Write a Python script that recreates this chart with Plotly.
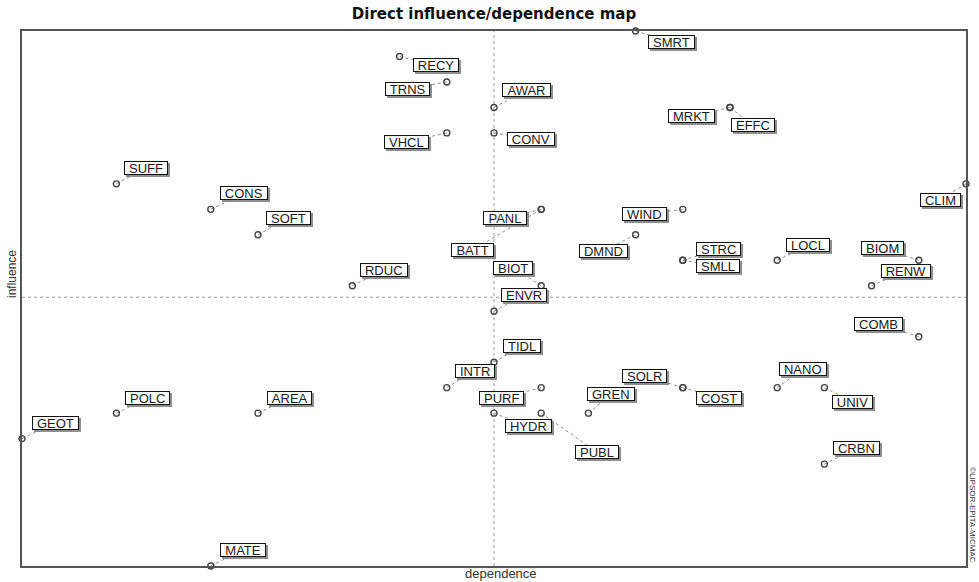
import plotly.graph_objects as go

# ---- data ----
names = ["RECY", "TRNS", "VHCL", "SUFF", "CONS", "SOFT", "RDUC", "AWAR", "CONV", "SMRT",
         "MRKT", "EFFC", "CLIM", "PANL", "BATT", "WIND", "DMND", "STRC", "SMLL", "LOCL",
         "BIOM", "RENW", "BIOT", "ENVR", "TIDL", "INTR", "PURF", "HYDR", "PUBL", "GREN",
         "SOLR", "COST", "NANO", "UNIV", "COMB", "CRBN", "GEOT", "POLC", "AREA", "MATE"]
dependence = [8, 9, 9, 2, 4, 5, 7, 10, 10, 13,
              15, 15, 20, 11, 11, 14, 13, 14, 14, 16,
              19, 18, 11, 10, 10, 9, 11, 10, 11, 12,
              14, 14, 16, 17, 19, 17, 0, 2, 5, 4]
influence = [20, 19, 17, 15, 14, 13, 11, 18, 17, 21,
             18, 18, 15, 14, 14, 14, 13, 12, 12, 12,
             12, 11, 11, 10, 8, 7, 7, 6, 6, 6,
             7, 7, 7, 7, 9, 4, 5, 6, 6, 0]
dependence_mean = 10.0
influence_mean = 10.55

# ---- label placement (pixel offsets of label centre from its point) ----
label_offset = {
    "RECY": (36, 9), "TRNS": (-39, 7), "VHCL": (-40, 9), "SUFF": (30, -16),
    "CONS": (33, -16), "SOFT": (30, -17), "RDUC": (32, -16), "AWAR": (32, -17),
    "CONV": (37, 6), "SMRT": (36, 11), "MRKT": (-39, 9), "EFFC": (23, 18),
    "CLIM": (-26, 16), "PANL": (-36, 9), "BATT": (-69, 41), "WIND": (-38, 5),
    "DMND": (-32, 16), "STRC": (36, -11), "SMLL": (35, 6), "LOCL": (31, -15),
    "BIOM": (-36, -12), "RENW": (34, -15), "BIOT": (-28, -18), "ENVR": (30, -16),
    "TIDL": (28, -16), "INTR": (28, -17), "PURF": (-40, 10), "HYDR": (34, 13),
    "PUBL": (56, 39), "GREN": (23, -19), "SOLR": (-38, -12), "COST": (36, 10),
    "NANO": (26, -19), "UNIV": (28, 14), "COMB": (-40, -13), "CRBN": (32, -16),
    "GEOT": (33, -16), "POLC": (31, -15), "AREA": (31, -15), "MATE": (32, -16),
}

W, H = 979, 582
ML, MR, MT, MB = 22, 13, 31, 16
XR = [0, 20]
YR = [0, 21]
px_x = (W - ML - MR) / (XR[1] - XR[0])
px_y = (H - MT - MB) / (YR[1] - YR[0])

FONT = "Liberation Sans, Arial, sans-serif"
LABEL_SIZE = 13
cw = {"A": 667, "B": 667, "C": 722, "D": 722, "E": 667, "F": 611, "G": 778, "H": 722,
      "I": 278, "J": 500, "K": 667, "L": 556, "M": 833, "N": 722, "O": 778, "P": 667,
      "Q": 778, "R": 722, "S": 667, "T": 611, "U": 722, "V": 667, "W": 944, "X": 667,
      "Y": 667, "Z": 611}

def text_w(s):
    return sum(cw.get(c, 600) for c in s) / 1000 * LABEL_SIZE

lx, ly = [], []
for n, d, i in zip(names, dependence, influence):
    dx, dy = label_offset[n]
    lx.append(d + dx / px_x)
    ly.append(i - dy / px_y)

fig = go.Figure()

# connectors (dotted)
cx, cy = [], []
for d, i, x2, y2 in zip(dependence, influence, lx, ly):
    cx += [d, x2, None]
    cy += [i, y2, None]
fig.add_trace(go.Scatter(x=cx, y=cy, mode="lines",
                         line=dict(color="#8c8c8c", width=1, dash="dot"),
                         hoverinfo="skip", showlegend=False, cliponaxis=False))

# points
fig.add_trace(go.Scatter(x=dependence, y=influence, mode="markers",
                         marker=dict(symbol="circle-open", size=6,
                                     line=dict(color="#444", width=1.4), color="#444"),
                         text=names, hoverinfo="text", showlegend=False, cliponaxis=False))

annotations = []
for n, x2, y2 in zip(names, lx, ly):
    w = text_w(n) + 8
    # drop shadow box (no text)
    annotations.append(dict(x=x2, y=y2, xref="x", yref="y", text=" ", showarrow=False,
                            xshift=2, yshift=-2, width=w, height=12, borderpad=0,
                            font=dict(family=FONT, size=LABEL_SIZE, color="rgba(0,0,0,0)"),
                            bgcolor="#8f8f8f", bordercolor="#8f8f8f", borderwidth=1))
    annotations.append(dict(x=x2, y=y2, xref="x", yref="y", text=n, showarrow=False,
                            width=w, height=12, borderpad=0,
                            font=dict(family=FONT, size=LABEL_SIZE, color="#1a1a1a"),
                            bgcolor="white", bordercolor="#111", borderwidth=1))

pw, ph = W - ML - MR, H - MT - MB
annotations.append(dict(text="dependence", xref="paper", yref="paper",
                        x=(501 - ML) / pw, y=(H - MB - 573) / ph, showarrow=False,
                        xanchor="center", yanchor="middle",
                        font=dict(family=FONT, size=13, color="#333")))
annotations.append(dict(text="influence", xref="paper", yref="paper",
                        x=(12 - ML) / pw, y=(H - MB - 274) / ph, showarrow=False,
                        textangle=-90, xanchor="center", yanchor="middle",
                        font=dict(family=FONT, size=12, color="#333")))
annotations.append(dict(text="©LIPSOR-EPITA-MICMAC", xref="paper", yref="paper",
                        x=(973 - ML) / pw, y=(H - MB - 515) / ph, showarrow=False,
                        textangle=90, xanchor="center", yanchor="middle",
                        font=dict(family=FONT, size=8, color="#333")))

shapes = [
    dict(type="line", xref="x", yref="paper", x0=dependence_mean, x1=dependence_mean,
         y0=0, y1=1, line=dict(color="#999", width=1, dash="dot"), layer="below"),
    dict(type="line", xref="paper", yref="y", x0=0, x1=1, y0=influence_mean,
         y1=influence_mean, line=dict(color="#999", width=1, dash="dot"), layer="below"),
]

axis_common = dict(showgrid=False, zeroline=False, showticklabels=False, ticks="",
                   showline=True, mirror=True, linecolor="#555", linewidth=1.5,
                   fixedrange=True)
fig.update_layout(
    width=W, height=H,
    margin=dict(l=ML, r=MR, t=MT, b=MB, pad=0),
    paper_bgcolor="white", plot_bgcolor="white",
    title=dict(text="<b>Direct influence/dependence map</b>", x=(494 / W), xanchor="center",
               y=1 - 13.5 / H, yanchor="middle",
               font=dict(family="DejaVu Sans, Verdana, sans-serif", size=15, color="#111")),
    xaxis=dict(range=XR, **axis_common),
    yaxis=dict(range=YR, **axis_common),
    annotations=annotations,
    shapes=shapes,
)

fig.write_html("out.html", config={"displayModeBar": False},
               post_script="document.body.style.margin='0';")
